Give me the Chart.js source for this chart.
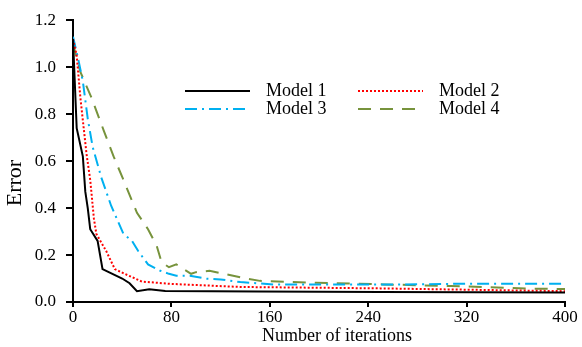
<!DOCTYPE html>
<html>
<head>
<meta charset="utf-8">
<script src="https://cdn.jsdelivr.net/npm/chart.js@4.4.1/dist/chart.umd.min.js"></script>
<style>
  html, body { margin: 0; padding: 0; background: #fff; }
  #wrap { width: 582px; height: 347px; }
</style>
</head>
<body>
<div id="wrap"><canvas id="myChart"></canvas></div>
<script>
// values
const seriesNames = ['Model 1', 'Model 2', 'Model 3', 'Model 4'];

const m1X = [0, 3, 8, 10, 12, 14, 20, 24, 40, 46, 52, 62, 75, 150, 250, 400];
const m1Y = [1.12, 0.74, 0.62, 0.47, 0.40, 0.31, 0.26, 0.14, 0.10, 0.08, 0.046, 0.054, 0.047, 0.045, 0.043, 0.040];

const m2X = [0, 3, 6, 11, 14, 17, 19, 27, 34, 42, 56, 80, 136, 250, 400];
const m2Y = [1.12, 1.05, 0.87, 0.63, 0.52, 0.355, 0.29, 0.217, 0.14, 0.12, 0.087, 0.077, 0.064, 0.058, 0.046];

const m3X = [0, 4, 8, 12, 16, 23, 31, 41, 48, 53, 61, 71, 78, 84, 95, 109, 120, 136, 165, 266, 317, 400];
const m3Y = [1.13, 1.04, 0.94, 0.78, 0.66, 0.53, 0.41, 0.29, 0.26, 0.217, 0.16, 0.133, 0.12, 0.112, 0.112, 0.099, 0.096, 0.085, 0.074, 0.074, 0.078, 0.078];

const m4X = [0, 6, 15, 25, 33, 41, 52, 61, 68, 72, 78, 84, 96, 100, 111, 136, 152, 198, 252, 307, 374, 400];
const m4Y = [1.10, 0.98, 0.87, 0.73, 0.62, 0.52, 0.38, 0.31, 0.24, 0.17, 0.148, 0.16, 0.12, 0.127, 0.133, 0.105, 0.09, 0.082, 0.075, 0.068, 0.057, 0.055];

const xTicks = [0, 80, 160, 240, 320, 400];
const yTicks = [0, 0.2, 0.4, 0.6, 0.8, 1.0, 1.2];

const colors = ['#000000', '#ff0000', '#00b0f0', '#77933c'];
const dashes = [[], [2, 2], [12, 5, 2, 5], [13, 9]];

function pts(xs, ys) {
  return xs.map((x, i) => ({ x: x, y: ys[i] }));
}
const allData = [pts(m1X, m1Y), pts(m2X, m2Y), pts(m3X, m3Y), pts(m4X, m4Y)];

const FONT = 'Liberation Serif';

// legend drawn inside the plot, two columns
const legendInside = {
  id: 'legendInside',
  afterDraw(chart) {
    const ctx = chart.ctx;
    const spots = [[185, 91], [358, 91], [185, 109], [358, 109]];
    ctx.save();
    ctx.font = '18px "' + FONT + '"';
    ctx.textBaseline = 'middle';
    ctx.fillStyle = '#000';
    chart.data.datasets.forEach((ds, i) => {
      const [x, y] = spots[i];
      ctx.beginPath();
      ctx.setLineDash(ds.borderDash || []);
      ctx.strokeStyle = ds.borderColor;
      ctx.lineWidth = ds.borderWidth;
      ctx.moveTo(x, y);
      ctx.lineTo(x + 65, y);
      ctx.stroke();
      ctx.setLineDash([]);
      ctx.fillText(ds.label, x + 81, y);
    });
    ctx.restore();
  }
};

var ctx = document.getElementById('myChart').getContext('2d');
var myChart = new Chart(ctx, {
  type: 'line',
  data: {
    datasets: allData.map((d, i) => ({
      label: seriesNames[i],
      data: d,
      borderColor: colors[i],
      borderWidth: 2,
      borderDash: dashes[i],
      pointRadius: 0,
      tension: 0,
      fill: false
    }))
  },
  options: {
    responsive: true,
    maintainAspectRatio: false,
    animation: false,
    layout: { padding: { top: 14, right: 17, left: 0, bottom: 0 } },
    plugins: {
      legend: { display: false },
      tooltip: { enabled: false }
    },
    scales: {
      x: {
        type: 'linear',
        min: 0,
        max: 400,
        afterBuildTicks: s => { s.ticks = xTicks.map(v => ({ value: v })); },
        afterFit: s => { s.height = 45; },
        grid: { drawOnChartArea: false, drawTicks: true, tickLength: 5, color: '#000', lineWidth: 2 },
        border: { color: '#000', width: 2 },
        ticks: { color: '#000', font: { family: FONT, size: 17 }, padding: 0, maxRotation: 0 },
        // leading spaces nudge the title right of the axis middle, as in the picture
        title: { display: true, text: '        Number of iterations', color: '#000', font: { family: FONT, size: 18 }, padding: 0 }
      },
      y: {
        min: 0,
        max: 1.2,
        afterBuildTicks: s => { s.ticks = yTicks.map(v => ({ value: v })); },
        afterFit: s => { s.width = 73; },
        grid: { drawOnChartArea: false, drawTicks: true, tickLength: 7, color: '#000', lineWidth: 2 },
        border: { color: '#000', width: 2 },
        ticks: { color: '#000', font: { family: FONT, size: 17 }, padding: 10, callback: v => v.toFixed(1) },
        // trailing spaces push the rotated title a little below the axis middle
        title: { display: true, text: 'Error        ', color: '#000', font: { family: FONT, size: 22 }, padding: { top: 2, bottom: 0 } }
      }
    }
  },
  plugins: [legendInside]
});
</script>
</body>
</html>
